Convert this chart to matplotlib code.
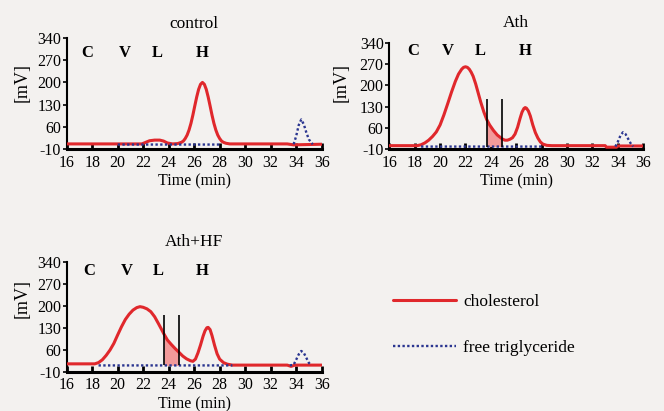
import numpy as np
import matplotlib.pyplot as plt

# serif font like in the printed figure, plain hyphen for minus
plt.rcParams['font.family'] = ['Liberation Serif', 'DejaVu Serif']
plt.rcParams['axes.unicode_minus'] = False

nan = np.nan

# axis ticks
x_ticks = [16, 18, 20, 22, 24, 26, 28, 30, 32, 34, 36]
y_ticks = [-10, 60, 130, 200, 270, 340]
fractions = ["C", "V", "L", "H"]

# --- control ---
control_chol_t = [16, 21.9, 22.2, 22.5, 22.9, 23.3, 23.6, 23.9, 24.3, 24.7,
                  25.0, 25.15, 25.3, 25.45, 25.6, 25.75, 25.9, 26.05, 26.2, 26.35,
                  26.5, 26.65, 26.8, 26.95, 27.1, 27.25, 27.4, 27.55, 27.7, 27.85,
                  28.0, 28.15, 28.3, 28.5, 28.8, 33.3, 33.8, 36]
control_chol_v = [6, 6, 11, 16, 18, 18, 15, 9, 6, 7,
                  11, 15, 23, 34, 50, 71, 97, 126, 154, 178,
                  194, 200, 194, 178, 154, 126, 97, 71, 50, 34,
                  23, 15, 11, 8, 6, 6, 3, 5]
control_tg_t = [20.0, 28.0, nan, 33.8, 34.0, 34.2, 34.4, 34.6, 34.8, 35.0, 35.3]
control_tg_v = [4, 4, nan, 5, 30, 65, 83, 68, 42, 20, 5]
control_frac_x = [17.6, 20.6, 23.1, 26.6]
control_frac_y = 292

# --- Ath ---
ath_chol_t = [16, 18.2, 18.5, 18.8, 19.1, 19.4, 19.7, 20.0, 20.3, 20.6,
              20.9, 21.2, 21.45, 21.7, 21.85, 22.0, 22.15, 22.3, 22.45, 22.6,
              22.8, 23.0, 23.2, 23.45, 23.67, 23.9, 24.2, 24.5, 24.9, 25.1,
              25.3, 25.5, 25.7, 25.9, 26.1, 26.3, 26.45, 26.6, 26.7, 26.8,
              26.95, 27.1, 27.3, 27.5, 27.7, 27.9, 28.1, 28.4, 28.8, 33.0,
              33.1, 33.9, 34.0, 36]
ath_chol_v = [2, 2, 5, 11, 20, 32, 47, 70, 103, 140,
              178, 213, 237, 253, 259, 261, 259, 253, 243, 230,
              205, 175, 145, 112, 88, 70, 52, 37, 24, 20,
              20, 23, 28, 40, 62, 92, 112, 124, 127, 125,
              116, 100, 70, 45, 27, 14, 7, 3, 2, 2,
              -3, -3, 1, 1]
ath_tg_t = [18.5, 28.0, nan, 33.8, 34.0, 34.2, 34.4, 34.6, 34.8, 35.0, 35.2]
ath_tg_v = [-1, -1, nan, -1, 15, 35, 46, 40, 25, 10, -1]
ath_frac_x = [17.9, 20.6, 23.2, 26.7]
ath_frac_y = 314
ath_cut = [23.67, 24.9]
ath_cut_top = 155

# --- Ath+HF ---
hf_chol_t = [16, 18.2, 18.5, 18.8, 19.1, 19.4, 19.7, 20.0, 20.3, 20.6,
             20.9, 21.2, 21.5, 21.75, 22.0, 22.3, 22.6, 22.9, 23.2, 23.45,
             23.63, 23.9, 24.2, 24.5, 24.78, 25.1, 25.4, 25.7, 25.9, 26.1,
             26.3, 26.5, 26.7, 26.85, 27.0, 27.1, 27.25, 27.4, 27.6, 27.8,
             28.0, 28.3, 28.6, 29.0, 33.3, 33.6, 33.9, 36]
hf_chol_v = [15, 15, 19, 28, 42, 59, 80, 107, 133, 156,
             173, 186, 194, 197, 195, 190, 181, 165, 143, 124,
             110, 91, 77, 64, 53, 40, 31, 25, 23, 30,
             50, 75, 103, 120, 130, 131, 124, 105, 74, 47,
             30, 19, 14, 11, 11, 7, 11, 11]
hf_tg_t = [18.5, 29.0, nan, 33.5, 33.8, 34.0, 34.2, 34.4, 34.6, 34.8, 35.0, 35.2]
hf_tg_v = [10, 10, nan, 10, 12, 28, 45, 56, 50, 34, 18, 10]
hf_frac_x = [17.8, 20.7, 23.2, 26.6]
hf_frac_y = 312
hf_cut = [23.63, 24.78]
hf_cut_top = 170

red = "#e0282c"
blue = "#2a3590"
pink = "#f29a9a"
bg = "#f3f1ef"

fig = plt.figure(figsize=(6.64, 4.11), dpi=100, facecolor=bg)


def panel(rect, title, title_pad, chol_t, chol_v, tg_t, tg_v, frac_x, frac_y,
          cut=None, cut_top=None, ylab_pos=(-0.14, 0.6)):
    ax = fig.add_axes(rect)
    ax.set_facecolor("none")

    # cholesterol and triglyceride curves
    ax.plot(chol_t, chol_v, color=red, lw=2.2, solid_joinstyle="round",
            solid_capstyle="round", zorder=3)
    ax.plot(tg_t, tg_v, color=blue, lw=1.7, linestyle=(0, (1, 1)), zorder=4)

    # shaded region between the two vertical marks
    if cut is not None:
        t = np.array(chol_t)
        v = np.array(chol_v)
        base = tg_v[0]
        mask = (t >= cut[0] - 1e-9) & (t <= cut[1] + 1e-9)
        ax.fill_between(t, base, v, where=mask, color=pink, lw=0, zorder=2)
        ax.vlines(cut, base, cut_top, color="black", lw=1.2, zorder=5)

    # fraction letters
    for lab, xx in zip(fractions, frac_x):
        ax.text(xx, frac_y, lab, ha="center", va="center", fontsize=12, fontweight="bold")

    ax.set_xlim(16, 36)
    ax.set_ylim(-10, 340)
    ax.set_xticks(x_ticks)
    ax.set_yticks(y_ticks)
    ax.tick_params(axis="x", direction="in", length=4, width=2, labelsize=11.5, pad=4)
    ax.tick_params(axis="y", direction="out", length=3, width=1.2, labelsize=11.5, pad=1)

    for side in ["top", "right"]:
        ax.spines[side].set_visible(False)
    ax.spines["bottom"].set_linewidth(2.2)
    ax.spines["left"].set_linewidth(1.5)

    ax.set_title(title, fontsize=12.5, pad=title_pad)
    ax.set_xlabel("Time (min)", fontsize=11.5, labelpad=2)
    ax.set_ylabel("[mV]", fontsize=13)
    ax.yaxis.set_label_coords(*ylab_pos)
    return ax


ax1 = panel([0.1004, 0.6375, 0.384, 0.270], "control", 7,
            control_chol_t, control_chol_v, control_tg_t, control_tg_v,
            control_frac_x, control_frac_y, ylab_pos=(-0.14, 0.595))
ax2 = panel([0.5863, 0.6367, 0.3825, 0.2594], "Ath", 11,
            ath_chol_t, ath_chol_v, ath_tg_t, ath_tg_v,
            ath_frac_x, ath_frac_y, ath_cut, ath_cut_top, ylab_pos=(-0.157, 0.627))
ax3 = panel([0.1004, 0.0956, 0.384, 0.2676], "Ath+HF", 11,
            hf_chol_t, hf_chol_v, hf_tg_t, hf_tg_v,
            hf_frac_x, hf_frac_y, hf_cut, hf_cut_top, ylab_pos=(-0.14, 0.667))

# legend in the free lower right corner
h_red = ax1.lines[0]
h_blue = ax1.lines[1]
fig.legend([h_red, h_blue], ["cholesterol", "free triglyceride"],
           loc="center left", bbox_to_anchor=(393 / 664, 1 - 325 / 411),
           frameon=False, fontsize=12.5, handlelength=3.6, handletextpad=0.45,
           labelspacing=1.7, borderpad=0, borderaxespad=0)

plt.savefig("out.png", dpi=100, facecolor=bg)
